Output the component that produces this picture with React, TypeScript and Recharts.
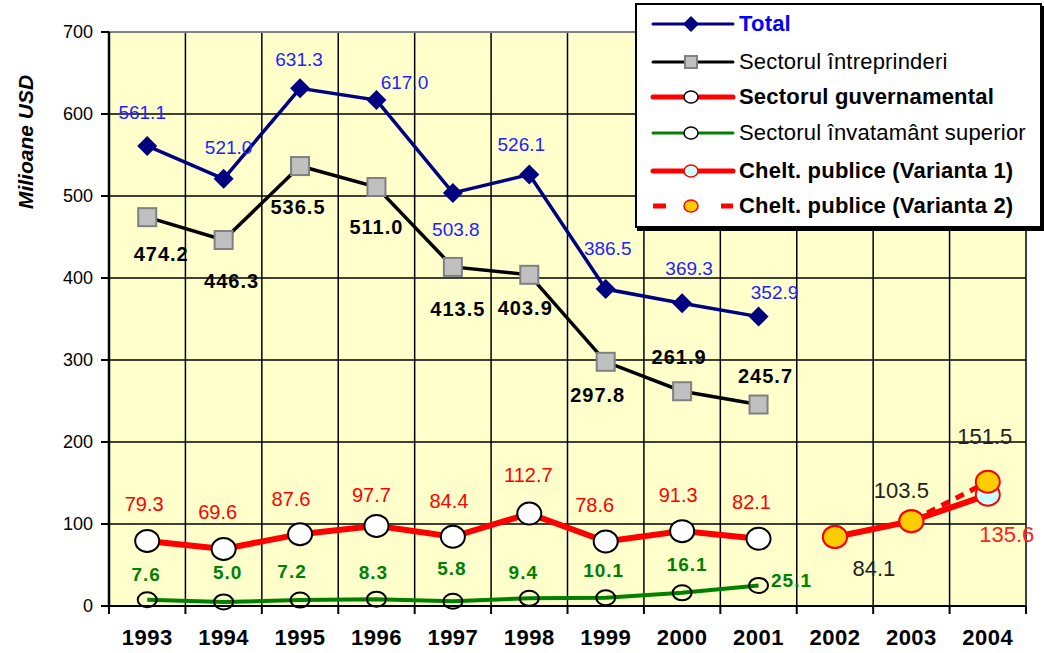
import React from 'react'
import { CartesianGrid, LabelList, Line, LineChart, ReferenceLine, XAxis, YAxis } from 'recharts'

const years = ['1993', '1994', '1995', '1996', '1997', '1998', '1999', '2000', '2001', '2002', '2003', '2004']
const total = [561.1, 521.0, 631.3, 617.0, 503.8, 526.1, 386.5, 369.3, 352.9, null, null, null]
const intreprinderi = [474.2, 446.3, 536.5, 511.0, 413.5, 403.9, 297.8, 261.9, 245.7, null, null, null]
const guvernamental = [79.3, 69.6, 87.6, 97.7, 84.4, 112.7, 78.6, 91.3, 82.1, null, null, null]
const invatamant = [7.6, 5.0, 7.2, 8.3, 5.8, 9.4, 10.1, 16.1, 25.1, null, null, null]
const varianta1 = [null, null, null, null, null, null, null, null, null, 84.1, 103.5, 135.6]
const varianta2 = [null, null, null, null, null, null, null, null, null, 84.1, 103.5, 151.5]
const yTicks = [0, 100, 200, 300, 400, 500, 600, 700]

const data = years.map((year, i) => ({
  year,
  total: total[i],
  intreprinderi: intreprinderi[i],
  guvernamental: guvernamental[i],
  invatamant: invatamant[i],
  v1: varianta1[i],
  v2: varianta2[i],
}))

// label placement (dx, dy) per point, copied from the excel layout
type Off = [number, number] | null
const totalOff: Off[] = [[-5, -33], [5, -31], [-1, -29], [28, -18], [3, 37], [-8, -30], [2, -41], [7, -35], [16, -24]]
const intrOff: Off[] = [[14, 37], [8, 41], [-2, 41], [0, 40], [5, 42], [-4, 33], [-8, 33], [-3, -34], [7, -29]]
const guvOff: Off[] = [[-3, -37], [-6, -37], [-9, -35], [-5, -31], [-4, -36], [-1, -39], [-11, -37], [-4, -36], [-7, -37]]
const invOff: Off[] = [[-1, -25], [4, -29], [-8, -29], [-3, -27], [-1, -33], [-6, -26], [-2, -27], [5, -28], [33, -5]]
const v1Off: Off[] = [null, null, null, null, null, null, null, null, null, null, null, [19, 40]]
const v2Off: Off[] = [null, null, null, null, null, null, null, null, null, [39, 31], [-10, -31], [-3, -45]]

const FONT = '"Liberation Sans", Arial, sans-serif'
const HALF_BAND = 917 / 24

const makeLabel = (offsets: Off[], style: any) => (props: any) => {
  const { x, y, value, index } = props
  if (value == null || x == null || y == null) return null
  const o = offsets[index]
  if (!o) return null
  return (
    <text x={x + o[0]} y={y + o[1]} textAnchor="middle" dominantBaseline="central" fontFamily={FONT} {...style}>
      {Number(value).toFixed(1)}
    </text>
  )
}

const diamond = (p: any) => {
  if (p.cx == null || p.cy == null) return <g key={p.key} />
  const { cx, cy } = p
  return <path key={p.key} d={`M${cx} ${cy - 10}L${cx + 10} ${cy}L${cx} ${cy + 10}L${cx - 10} ${cy}Z`} fill="#000080" />
}
const square = (p: any) => {
  if (p.cx == null || p.cy == null) return <g key={p.key} />
  return <rect key={p.key} x={p.cx - 9} y={p.cy - 9} width={18} height={18} fill="#C0C0C0" stroke="#808080" strokeWidth={2} />
}
const ellipse = (rx: number, ry: number, fill: string, stroke: string) => (p: any) => {
  if (p.cx == null || p.cy == null) return <g key={p.key} />
  return <ellipse key={p.key} cx={p.cx} cy={p.cy} rx={rx} ry={ry} fill={fill} stroke={stroke} strokeWidth={2} />
}

const XTick = (props: any) => {
  const { x, y, payload, index } = props
  return (
    <g>
      <line x1={x - HALF_BAND} x2={x - HALF_BAND} y1={y} y2={y + 8} stroke="#000" strokeWidth={2} />
      {index === years.length - 1 && <line x1={x + HALF_BAND} x2={x + HALF_BAND} y1={y} y2={y + 8} stroke="#000" strokeWidth={2} />}
      <text x={x} y={y + 31} textAnchor="middle" dominantBaseline="central" fontFamily={FONT} fontWeight="bold" fontSize={22} letterSpacing={0.5} fill="#000">
        {payload.value}
      </text>
    </g>
  )
}

const YTitle = () => (
  <text x={25} y={142} transform="rotate(-90, 25, 142)" textAnchor="middle" dominantBaseline="central" fontFamily={FONT} fontWeight="bold" fontStyle="italic" fontSize={21} fill="#000">
    Milioane USD
  </text>
)

const legendRows = [
  { name: 'Total', color: '#0000FF', bold: true, line: '#000080', width: 3, dash: false, marker: 'diamond' },
  { name: 'Sectorul întreprinderi', color: '#000', bold: false, line: '#000', width: 3, dash: false, marker: 'square' },
  { name: 'Sectorul guvernamental', color: '#000', bold: true, line: '#FF0000', width: 5, dash: false, marker: 'white' },
  { name: 'Sectorul învatamânt superior', color: '#000', bold: false, line: '#008000', width: 3, dash: false, marker: 'hollow' },
  { name: 'Chelt. publice (Varianta 1)', color: '#000', bold: true, line: '#FF0000', width: 5, dash: false, marker: 'cyan' },
  { name: 'Chelt. publice (Varianta 2)', color: '#000', bold: true, line: '#FF0000', width: 5, dash: true, marker: 'orange' },
]
const legendTops = [19, 57, 92, 128, 166, 201]

function LegendMarker({ kind }: { kind: string }) {
  const cx = 54
  const cy = 10
  if (kind === 'diamond') return <path d={`M${cx} ${cy - 8}L${cx + 8} ${cy}L${cx} ${cy + 8}L${cx - 8} ${cy}Z`} fill="#000080" />
  if (kind === 'square') return <rect x={cx - 6} y={cy - 6} width={12} height={12} fill="#C0C0C0" stroke="#808080" strokeWidth={2} />
  if (kind === 'white') return <ellipse cx={cx} cy={cy} rx={7} ry={6} fill="#fff" stroke="#000" strokeWidth={1.5} />
  if (kind === 'hollow') return <ellipse cx={cx} cy={cy} rx={7} ry={6} fill="#fff" stroke="#000" strokeWidth={1.5} />
  if (kind === 'cyan') return <ellipse cx={cx} cy={cy} rx={7} ry={6} fill="#CCFFFF" stroke="#FF0000" strokeWidth={1.5} />
  return <ellipse cx={cx} cy={cy} rx={7} ry={6} fill="#FFCC00" stroke="#FF0000" strokeWidth={1.5} />
}

function ChartLegend() {
  return (
    <div style={{ position: 'absolute', left: 635, top: 3, width: 403, height: 221, background: '#fff', border: '2px solid #000', boxShadow: '2px 3px 0 #000', fontFamily: FONT }}>
      {legendRows.map((r, i) => (
        <div key={r.name} style={{ position: 'absolute', left: 0, top: legendTops[i] - 12, height: 24, display: 'flex', alignItems: 'center' }}>
          <svg width={102} height={20} style={{ display: 'block' }}>
            {r.dash ? (
              <>
                <line x1={16} x2={29} y1={10} y2={10} stroke={r.line} strokeWidth={r.width} />
                <line x1={84} x2={96} y1={10} y2={10} stroke={r.line} strokeWidth={r.width} />
              </>
            ) : (
              <line x1={16} x2={96} y1={10} y2={10} stroke={r.line} strokeWidth={r.width} strokeLinecap="round" />
            )}
            <LegendMarker kind={r.marker} />
          </svg>
          <span style={{ fontSize: 22, fontWeight: r.bold ? 'bold' : 'normal', color: r.color, letterSpacing: 0.2, whiteSpace: 'nowrap', lineHeight: '24px' }}>
            {r.name}
          </span>
        </div>
      ))}
    </div>
  )
}

export default function App() {
  return (
    <div style={{ position: 'absolute', left: 0, top: 0, width: 1044, height: 653, background: '#fff' }}>
      <LineChart width={1044} height={653} data={data} margin={{ top: 32, right: 18, left: 49, bottom: 0 }}>
        <CartesianGrid
          stroke="#000"
          strokeWidth={1.5}
          fill="#FFFFCC"
          fillOpacity={1}
          verticalCoordinatesGenerator={({ offset }: any) =>
            years.map((_, i) => offset.left + ((i + 1) * offset.width) / years.length)
          }
        />
        <ReferenceLine y={700} stroke="#808080" strokeWidth={2} />
        <XAxis
          dataKey="year"
          interval={0}
          height={47}
          padding={{ left: HALF_BAND, right: HALF_BAND }}
          axisLine={{ stroke: '#000', strokeWidth: 2 }}
          tickLine={false}
          tickSize={0}
          tickMargin={0}
          tick={<XTick />}
        />
        <YAxis
          width={60}
          domain={[0, 700]}
          ticks={yTicks}
          interval={0}
          axisLine={{ stroke: '#000', strokeWidth: 2.5 }}
          tickLine={{ stroke: '#000', strokeWidth: 2 }}
          tickSize={8}
          tickMargin={8}
          tick={{ fill: '#000', fontSize: 18, fontFamily: FONT }}
          label={<YTitle />}
        />
        <Line dataKey="invatamant" stroke="#008000" strokeWidth={4} dot={ellipse(9.5, 7.5, 'none', '#000')} isAnimationActive={false}>
          <LabelList dataKey="invatamant" content={makeLabel(invOff, { fill: '#008000', fontWeight: 'bold', fontSize: 19, letterSpacing: 1 })} />
        </Line>
        <Line dataKey="guvernamental" stroke="#FF0000" strokeWidth={6} dot={ellipse(12, 11, '#fff', '#000')} isAnimationActive={false}>
          <LabelList dataKey="guvernamental" content={makeLabel(guvOff, { fill: '#FF0000', fontSize: 20 })} />
        </Line>
        <Line dataKey="intreprinderi" stroke="#000" strokeWidth={3.5} dot={square} isAnimationActive={false}>
          <LabelList dataKey="intreprinderi" content={makeLabel(intrOff, { fill: '#000', fontWeight: 'bold', fontSize: 20, letterSpacing: 1 })} />
        </Line>
        <Line dataKey="total" stroke="#000080" strokeWidth={3.5} dot={diamond} isAnimationActive={false}>
          <LabelList dataKey="total" content={makeLabel(totalOff, { fill: '#2222FF', fontSize: 19 })} />
        </Line>
        <Line dataKey="v1" stroke="#FF0000" strokeWidth={6} dot={ellipse(12, 11, '#CCFFFF', '#FF0000')} isAnimationActive={false}>
          <LabelList dataKey="v1" content={makeLabel(v1Off, { fill: '#FF2222', fontSize: 22 })} />
        </Line>
        <Line dataKey="v2" stroke="#FF0000" strokeWidth={5} strokeDasharray="9 7" dot={ellipse(12, 11, '#FFCC00', '#FF0000')} isAnimationActive={false}>
          <LabelList dataKey="v2" content={makeLabel(v2Off, { fill: '#222', fontSize: 22 })} />
        </Line>
      </LineChart>
      <ChartLegend />
    </div>
  )
}
